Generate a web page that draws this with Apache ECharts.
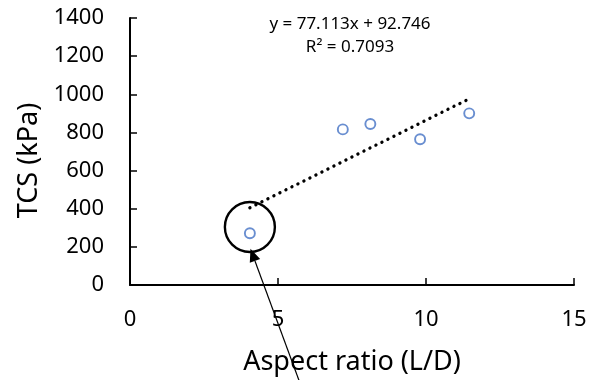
<!DOCTYPE html>
<html>
<head>
<meta charset="utf-8">
<script src="https://cdn.jsdelivr.net/npm/echarts@6/dist/echarts.min.js"></script>
<style>
  html, body { margin: 0; padding: 0; background: #fff; }
  #chart { width: 590px; height: 380px; }
</style>
</head>
<body>
<div id="chart"></div>
<script>
// Measured samples: aspect ratio (L/D) vs tensile compressive strength (kPa)
const aspectRatio = [4.05, 7.19, 8.12, 9.80, 11.46];
const tcs = [271, 816, 844, 764, 900];

// Linear trendline coefficients, as printed on the chart
const slope = 77.113;
const intercept = 92.746;
const rSquared = 0.7093;

const xTicks = { min: 0, max: 15, interval: 5 };
const yTicks = { min: 0, max: 1400, interval: 200 };

// Highlighted outlier (data coordinates) and the arrow pointing at it
const highlightCenter = [4.05, 304];
const arrowTip = [4.07, 190];
const arrowTail = [5.78, -530];

const FONT = 'Noto Sans';

const xMin = Math.min(...aspectRatio);
const xMax = Math.max(...aspectRatio);
const trend = [
  [xMin, slope * xMin + intercept],
  [xMax, slope * xMax + intercept]
];

const chart = echarts.init(document.getElementById('chart'), null, { renderer: 'canvas' });

const axisCommon = {
  axisLine: { show: true, onZero: false, lineStyle: { color: '#000', width: 2 } },
  axisTick: { show: true, inside: true, length: 7, lineStyle: { color: '#000', width: 1.5 } },
  splitLine: { show: false },
  axisLabel: { color: '#000', fontFamily: FONT, fontSize: 22, formatter: v => String(v) },
  nameTextStyle: { color: '#000', fontFamily: FONT, fontSize: 27 }
};

chart.setOption({
  animation: false,
  backgroundColor: '#fff',
  grid: { left: 130, right: 16, top: 18, bottom: 95, containLabel: false, outerBoundsMode: 'none' },
  xAxis: Object.assign({}, axisCommon, {
    type: 'value',
    min: xTicks.min, max: xTicks.max, interval: xTicks.interval,
    name: 'Aspect ratio (L/D)',
    nameLocation: 'middle',
    nameGap: 64,
    axisLabel: Object.assign({}, axisCommon.axisLabel, { margin: 24 })
  }),
  yAxis: Object.assign({}, axisCommon, {
    type: 'value',
    min: yTicks.min, max: yTicks.max, interval: yTicks.interval,
    name: 'TCS (kPa)',
    nameLocation: 'middle',
    nameGap: 87,
    nameTextStyle: Object.assign({}, axisCommon.nameTextStyle, { padding: [0, 0, 0, -18] }),
    axisLabel: Object.assign({}, axisCommon.axisLabel, { margin: 26 })
  }),
  series: [
    {
      name: 'Trendline',
      type: 'line',
      data: trend,
      symbol: 'none',
      lineStyle: { color: '#000', width: 3.3, type: [0.1, 6.6], cap: 'round' },
      z: 2
    },
    {
      name: 'TCS',
      type: 'scatter',
      data: aspectRatio.map((x, i) => [x, tcs[i]]),
      symbol: 'circle',
      symbolSize: 10,
      itemStyle: { color: '#fff', borderColor: '#4472C4', borderWidth: 1.9 },
      z: 3
    },
    {
      name: 'Highlight',
      type: 'scatter',
      data: [highlightCenter],
      symbol: 'circle',
      symbolSize: 50,
      silent: true,
      itemStyle: { color: 'rgba(0,0,0,0)', borderColor: '#000', borderWidth: 2.4, opacity: 1 },
      z: 4
    }
  ]
});

// Annotation: equation text and arrow, positioned through the axes' scales
const tip = chart.convertToPixel({ gridIndex: 0 }, arrowTip);
const tail = chart.convertToPixel({ gridIndex: 0 }, arrowTail);
const dx = tip[0] - tail[0], dy = tip[1] - tail[1];
const len = Math.sqrt(dx * dx + dy * dy);
const ux = dx / len, uy = dy / len;
const headLen = 13, headHalf = 5.5;
const bx = tip[0] - ux * headLen, by = tip[1] - uy * headLen;

chart.setOption({
  graphic: [
    {
      type: 'text', x: 350, y: 24,
      style: {
        text: 'y = ' + slope + 'x + ' + intercept,
        fill: '#000', font: '17px "' + FONT + '"',
        align: 'center', verticalAlign: 'middle'
      }
    },
    {
      type: 'text', x: 350, y: 47,
      style: {
        text: 'R² = ' + rSquared,
        fill: '#000', font: '17px "' + FONT + '"',
        align: 'center', verticalAlign: 'middle'
      }
    },
    {
      type: 'line',
      shape: { x1: tail[0], y1: tail[1], x2: bx, y2: by },
      style: { stroke: '#000', lineWidth: 1.2 },
      z: 10
    },
    {
      type: 'polygon',
      shape: {
        points: [
          [tip[0], tip[1]],
          [bx - uy * headHalf, by + ux * headHalf],
          [bx + uy * headHalf, by - ux * headHalf]
        ]
      },
      style: { fill: '#000' },
      z: 10
    }
  ]
});
</script>
</body>
</html>
